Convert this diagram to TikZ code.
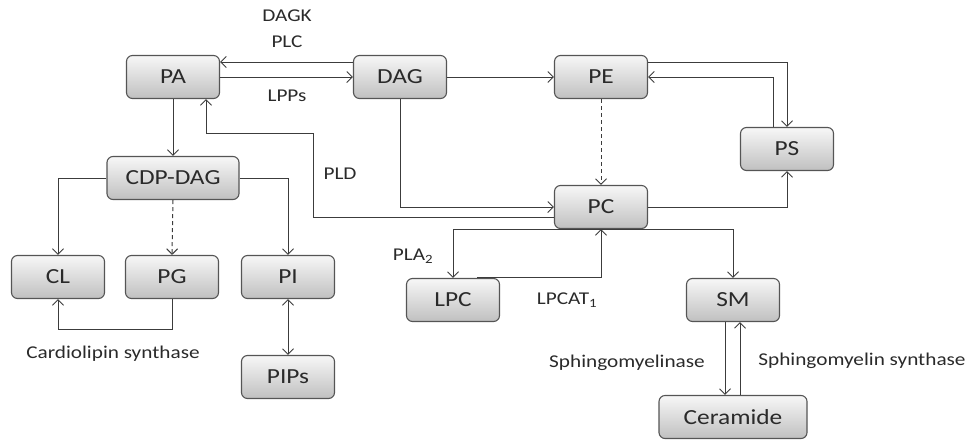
\documentclass[tikz,border=0pt]{standalone}
\usepackage{fontspec}
\setmainfont[FakeStretch=1.18]{Carlito}
\usetikzlibrary{arrows.meta,calc}
\definecolor{txt}{HTML}{2A2A2A}
\definecolor{ln}{HTML}{3C3C3C}
\definecolor{bd}{HTML}{555555}
\definecolor{topc}{HTML}{F7F7F7}
\definecolor{botc}{HTML}{C0C0C0}
\tikzset{
  box/.style={draw=bd, line width=1.1pt, rounded corners=6pt, top color=topc, bottom color=botc,
    minimum width=93pt, minimum height=43pt, inner sep=0pt, text=txt,
    font=\fontsize{21.5}{25}\selectfont},
  lbl/.style={text=txt, inner sep=0pt, font=\fontsize{18}{22}\selectfont},
  arr/.style={draw=ln, line width=1pt, -{Straight Barb[length=5.5pt,width=11pt]}},
  darr/.style={draw=ln, line width=1pt, {Straight Barb[length=5.5pt,width=11pt]}-{Straight Barb[length=5.5pt,width=11pt]}},
  dsh/.style={dashed, dash pattern=on 4pt off 3pt}
}
\begin{document}
\begin{tikzpicture}[x=1pt,y=-1pt]
\useasboundingbox (0,0) rectangle (973,439);
% nodes
\node[box] (PA) at (173,77) {PA};
\node[box] (DAG) at (400,77) {DAG};
\node[box] (PE) at (601,77) {PE};
\node[box] (PS) at (787,149) {PS};
\node[box] (PC) at (601,207) {PC};
\node[box, minimum width=132pt] (CDP) at (173,178) {CDP-DAG};
\node[box] (CL) at (58,277) {CL};
\node[box] (PG) at (172,277) {PG};
\node[box] (PI) at (288,277) {PI};
\node[box] (PIPs) at (288,377) {PIPs};
\node[box] (LPC) at (453,300) {LPC};
\node[box] (SM) at (733,300) {SM};
\node[box, minimum width=148pt] (Cer) at (733,417) {Ceramide};
% labels
\node[lbl] (l1) at (287,16) {DAGK};
\node[lbl] (l2) at (287,42) {PLC};
\node[lbl] (l3) at (287,96) {LPPs};
\node[lbl] (l4) at (340,174) {PLD};
\node[lbl] (l5) at (413,256) {PLA\textsubscript{2}};
\node[lbl] (l6) at (567,300) {LPCAT\textsubscript{1}};
\node[lbl] (l7) at (627,363) {Sphingomyelinase};
\node[lbl] (l8) at (862,361) {Sphingomyelin synthase};
\node[lbl] (l9) at (113,354) {Cardiolipin synthase};
% connectors
\draw[arr] ($(DAG.west)+(0,-15)$) -- ($(PA.east)+(0,-15)$);
\draw[arr] (PA.east) -- (DAG.west);
\draw[arr] (DAG.east) -- (PE.west);
\draw[arr] (PA.south) -- (CDP.north);
\coordinate (pldA) at (313,133);
\draw[arr] ($(PC.west)+(0,10)$) -| (pldA) -| ($(PA.south)+(33,0)$);
\draw[arr] (DAG.south) |- (PC.west);
\draw[arr, dsh] (PE.south) -- (PC.north);
\draw[arr] ($(PE.east)+(0,-15)$) -| (PS.north);
\draw[arr] ($(PS.north)+(-14,0)$) |- (PE.east);
\draw[arr] (PC.east) -| (PS.south);
\draw[arr] (PC.south) -| (LPC.north);
\draw[arr] (PC.south) -| (SM.north);
\draw[arr] ($(LPC.north)+(24,0)$) -| (PC.south);
\draw[arr] ($(SM.south)+(-8,0)$) -- ($(Cer.north)+(-8,0)$);
\draw[arr] ($(Cer.north)+(7,0)$) -- ($(SM.south)+(7,0)$);
\draw[arr] (CDP.west) -| (CL.north);
\draw[arr] (CDP.east) -| (PI.north);
\draw[arr, dsh] (CDP.south) -- (PG.north);
\draw[arr] (PG.south) |- ($(CL.south)+(0,30)$) -- (CL.south);
\draw[darr] (PI.south) -- (PIPs.north);
\end{tikzpicture}
\end{document}
